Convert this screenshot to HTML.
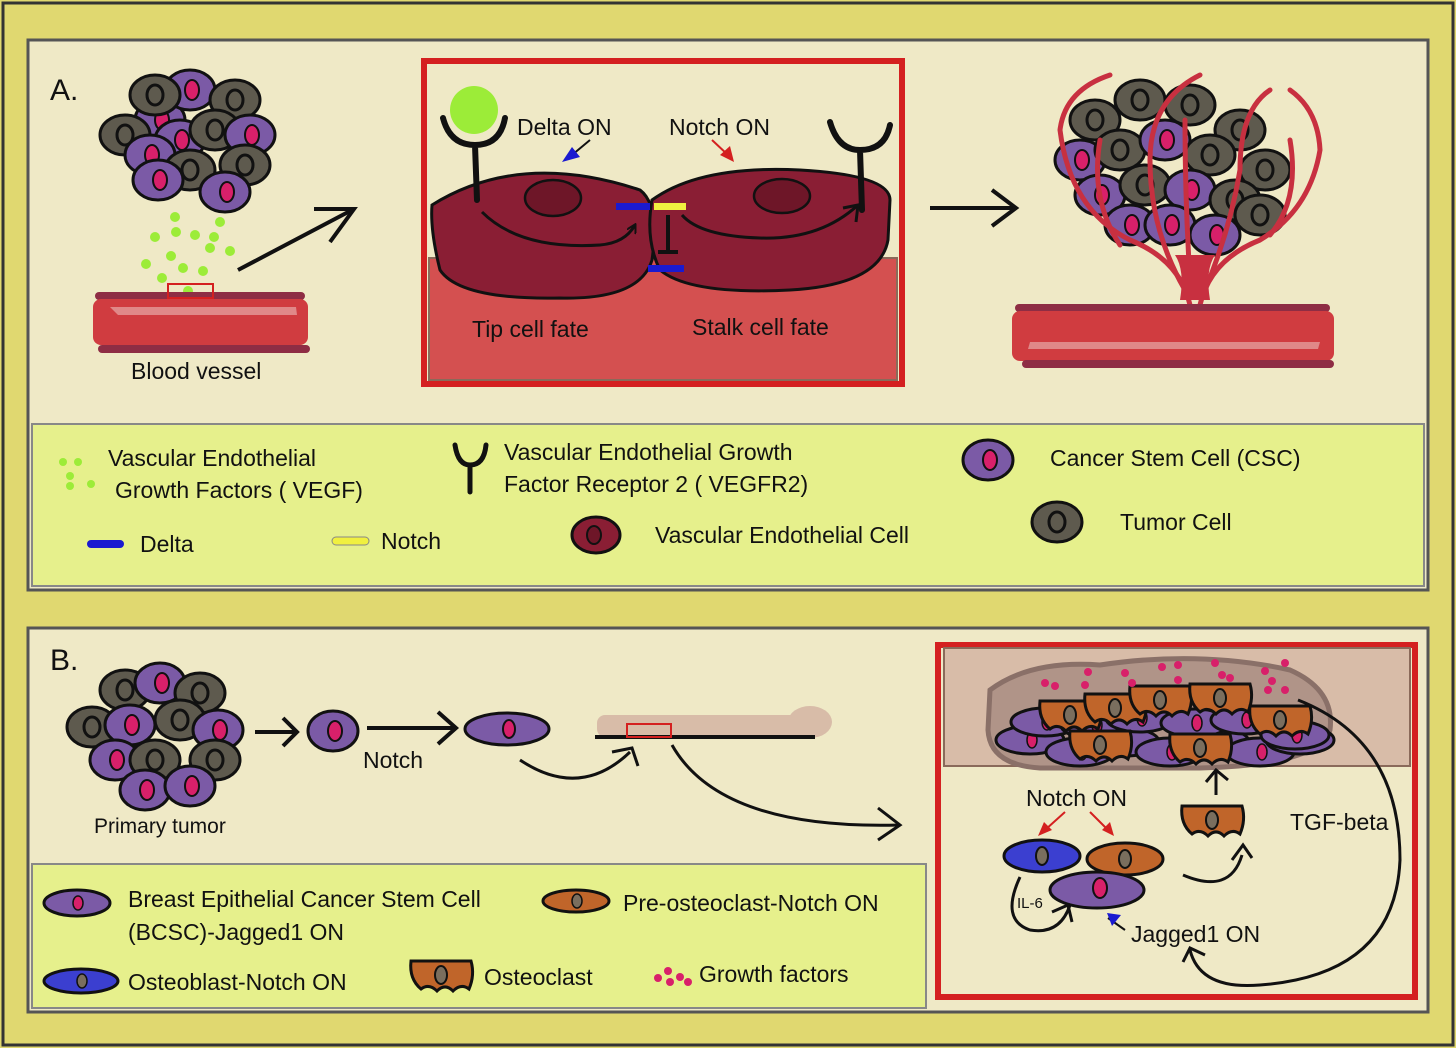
<!DOCTYPE html>
<html><head><meta charset="utf-8"><style>
html,body{margin:0;padding:0;background:#fff}
svg{display:block}
text{font-family:"Liberation Sans",sans-serif;fill:#111}
</style></head><body>
<svg width="1456" height="1048" viewBox="0 0 1456 1048" xmlns="http://www.w3.org/2000/svg">
<defs>
<marker id="ah" markerWidth="10" markerHeight="10" refX="8" refY="5" orient="auto" markerUnits="userSpaceOnUse"><path d="M0,0 L9,5 L0,10" fill="none" stroke="#111" stroke-width="2"/></marker>
<g id="csc"><ellipse cx="0" cy="0" rx="25" ry="20" fill="#7b5aa6" stroke="#111" stroke-width="3"/><ellipse cx="2" cy="0" rx="7" ry="10" fill="#d8206a" stroke="#111" stroke-width="2"/></g>
<g id="tum"><ellipse cx="0" cy="0" rx="25" ry="20" fill="#5e5a4e" stroke="#111" stroke-width="3"/><ellipse cx="0" cy="0" rx="8" ry="10" fill="#5e5a4e" stroke="#111" stroke-width="3"/></g>
<g id="bcsc"><ellipse cx="0" cy="0" rx="34" ry="14" fill="#7b5aa6" stroke="#111" stroke-width="3"/><ellipse cx="2" cy="0" rx="5" ry="8" fill="#d8206a" stroke="#111" stroke-width="1.5"/></g>
<g id="obl"><ellipse cx="0" cy="0" rx="38" ry="16" fill="#3b3fd0" stroke="#111" stroke-width="3"/><ellipse cx="0" cy="0" rx="6" ry="9" fill="#7a6e5e" stroke="#111" stroke-width="2"/></g>
<g id="pre"><ellipse cx="0" cy="0" rx="38" ry="16" fill="#c0652a" stroke="#111" stroke-width="3"/><ellipse cx="0" cy="0" rx="6" ry="9" fill="#7a6e5e" stroke="#111" stroke-width="2"/></g>
<g id="ocl"><path d="M-30,-14 L30,-14 Q34,0 28,14 Q20,8 12,16 Q4,8 -4,16 Q-12,8 -20,14 Q-32,4 -30,-14Z" fill="#c0652a" stroke="#111" stroke-width="3"/><ellipse cx="0" cy="0" rx="6" ry="9" fill="#7a6e5e" stroke="#111" stroke-width="2"/></g>
</defs>
<rect x="0" y="0" width="1456" height="1048" fill="#e0d870"/>
<rect x="3" y="3" width="1450" height="1042" fill="none" stroke="#333" stroke-width="3"/>
<!-- Panel A -->
<rect x="28" y="40" width="1400" height="550" fill="#efe9c6" stroke="#555" stroke-width="3"/>
<text x="50" y="100" font-size="30">A.</text>
<!-- tumor cluster A -->
<g>
<use href="#csc" x="160" y="120"/><use href="#csc" x="190" y="90"/><use href="#tum" x="155" y="95"/><use href="#tum" x="235" y="100"/>
<use href="#csc" x="180" y="140"/><use href="#tum" x="215" y="130"/><use href="#csc" x="250" y="135"/><use href="#tum" x="125" y="135"/>
<use href="#csc" x="150" y="155"/><use href="#tum" x="190" y="170"/><use href="#tum" x="245" y="165"/><use href="#csc" x="158" y="180"/><use href="#csc" x="225" y="192"/>
</g>
<g fill="#9cec38">
<circle cx="175" cy="217" r="5"/><circle cx="220" cy="222" r="5"/><circle cx="155" cy="237" r="5"/><circle cx="176" cy="232" r="5"/><circle cx="195" cy="235" r="5"/><circle cx="214" cy="237" r="5"/><circle cx="210" cy="248" r="5"/><circle cx="230" cy="251" r="5"/><circle cx="171" cy="256" r="5"/><circle cx="146" cy="264" r="5"/><circle cx="183" cy="268" r="5"/><circle cx="203" cy="271" r="5"/><circle cx="162" cy="278" r="5"/><circle cx="188" cy="291" r="5"/>
</g>
<rect x="95" y="292" width="210" height="8" rx="4" fill="#8e2d44"/>
<rect x="93" y="299" width="215" height="46" rx="8" fill="#d03c40"/>
<path d="M110,307 L296,307 L297,315 L118,315Z" fill="#e08888"/>
<rect x="98" y="345" width="212" height="8" rx="4" fill="#8e2d44"/>
<rect x="168" y="284" width="45" height="14" fill="none" stroke="#d42020" stroke-width="2"/>
<text x="131" y="379" font-size="23">Blood vessel</text>
<path d="M238,270 L352,210" stroke="#111" stroke-width="4" fill="none"/>
<path d="M314,209 L354,209 L330,242" stroke="#111" stroke-width="4" fill="none"/>
<!-- red box A -->
<rect x="424" y="61" width="478" height="323" fill="#efe9c6" stroke="#d42020" stroke-width="6"/>
<rect x="429" y="258" width="468" height="122" fill="#d45050" stroke="#8a6a5a" stroke-width="2"/>
<path d="M432,205 Q520,150 640,190 Q660,205 652,260 Q640,300 560,298 Q460,300 440,270 Q430,230 432,205Z" fill="#8a1e34" stroke="#111" stroke-width="3"/>
<path d="M652,200 Q700,165 800,170 Q890,175 890,200 L888,240 Q880,285 790,290 Q690,295 660,270 Q645,240 652,200Z" fill="#8a1e34" stroke="#111" stroke-width="3"/>
<ellipse cx="553" cy="198" rx="28" ry="18" fill="#6e1628" stroke="#111" stroke-width="2.5"/>
<ellipse cx="782" cy="196" rx="28" ry="17" fill="#6e1628" stroke="#111" stroke-width="2.5"/>
<circle cx="474" cy="110" r="24" fill="#9cec38"/>
<path d="M443,118 Q450,145 475,145 Q500,145 505,118 M475,145 L477,200" stroke="#111" stroke-width="6" fill="none" stroke-linecap="round"/>
<path d="M830,122 Q838,150 860,150 Q885,150 890,125 M860,150 L862,210" stroke="#111" stroke-width="6" fill="none" stroke-linecap="round"/>
<path d="M482,212 Q520,250 600,245 Q625,243 635,225" stroke="#111" stroke-width="3" fill="none" marker-end="url(#ah)"/>
<path d="M858,205 Q820,240 760,238 Q700,236 682,215" stroke="#111" stroke-width="3" fill="none"/>
<path d="M843,208 L858,205 L856,222" stroke="#111" stroke-width="3" fill="none"/>
<rect x="616" y="203" width="34" height="7" fill="#1a1ad0"/>
<rect x="654" y="203" width="32" height="7" fill="#f0f040"/>
<path d="M668,215 L668,252 M658,252 L678,252" stroke="#111" stroke-width="4"/>
<rect x="648" y="265" width="36" height="7" fill="#1a1ad0"/>
<text x="517" y="135" font-size="23">Delta ON</text>
<text x="669" y="135" font-size="23">Notch ON</text>
<path d="M590,140 L572,155" stroke="#111" stroke-width="2"/><path d="M562,162 L572,147 L580,157Z" fill="#1a1ad0"/>
<path d="M712,140 L728,155" stroke="#d42020" stroke-width="2"/><path d="M734,162 L720,155 L730,146Z" fill="#d42020"/>
<text x="472" y="337" font-size="23">Tip cell fate</text>
<text x="692" y="335" font-size="23">Stalk cell fate</text>
<path d="M930,208 L1015,208" stroke="#111" stroke-width="4"/>
<path d="M992,190 L1016,208 L992,226" stroke="#111" stroke-width="4" fill="none"/>
<!-- vascularized tumor -->
<g>
<use href="#tum" x="1095" y="120"/><use href="#tum" x="1140" y="100"/><use href="#tum" x="1190" y="105"/><use href="#tum" x="1240" y="130"/>
<use href="#csc" x="1080" y="160"/><use href="#tum" x="1120" y="150"/><use href="#csc" x="1165" y="140"/><use href="#tum" x="1210" y="155"/><use href="#tum" x="1265" y="170"/>
<use href="#csc" x="1100" y="195"/><use href="#tum" x="1145" y="185"/><use href="#csc" x="1190" y="190"/><use href="#tum" x="1235" y="200"/>
<use href="#csc" x="1130" y="225"/><use href="#csc" x="1170" y="225"/><use href="#csc" x="1215" y="235"/><use href="#tum" x="1260" y="215"/>
</g>
<g stroke="#c83040" stroke-width="5" fill="none" stroke-linecap="round">
<path d="M1190,305 Q1180,260 1130,240 Q1070,210 1060,130 Q1065,90 1110,75"/>
<path d="M1200,305 Q1210,260 1260,240 Q1310,210 1320,150 Q1318,110 1290,90"/>
<path d="M1185,290 Q1150,230 1150,160 Q1150,100 1200,75"/>
<path d="M1205,290 Q1230,230 1240,170 Q1240,110 1270,90"/>
<path d="M1190,280 Q1185,200 1185,120"/>
<path d="M1120,245 Q1090,200 1100,140"/>
<path d="M1270,235 Q1300,200 1290,140"/>
</g>
<path d="M1180,300 Q1185,270 1175,255 L1215,255 Q1205,270 1210,300Z" fill="#c83040"/>
<rect x="1015" y="304" width="315" height="8" rx="4" fill="#8e2d44"/>
<rect x="1012" y="311" width="322" height="50" rx="8" fill="#d03c40"/>
<path d="M1030,342 L1320,342 L1318,349 L1028,349Z" fill="#e08888"/>
<rect x="1022" y="360" width="312" height="8" rx="4" fill="#8e2d44"/>
<!-- legend A -->
<rect x="32" y="424" width="1392" height="162" fill="#e6f08c" stroke="#888" stroke-width="2"/>
<g fill="#9cec38"><circle cx="63" cy="462" r="4"/><circle cx="78" cy="462" r="4"/><circle cx="70" cy="476" r="4"/><circle cx="91" cy="484" r="4"/><circle cx="70" cy="486" r="4"/></g>
<text x="108" y="466" font-size="23">Vascular Endothelial</text>
<text x="115" y="498" font-size="23">Growth Factors ( VEGF)</text>
<path d="M455,445 Q458,465 470,465 Q484,465 486,445 M470,465 L470,492" stroke="#111" stroke-width="5" fill="none" stroke-linecap="round"/>
<text x="504" y="460" font-size="23">Vascular Endothelial Growth</text>
<text x="504" y="492" font-size="23">Factor Receptor 2 ( VEGFR2)</text>
<use href="#csc" x="988" y="460" transform="scale(1)"/>
<text x="1050" y="466" font-size="23">Cancer Stem Cell (CSC)</text>
<use href="#tum" x="1057" y="522"/>
<text x="1120" y="530" font-size="23">Tumor Cell</text>
<rect x="87" y="540" width="37" height="8" rx="4" fill="#1a1ad0"/>
<text x="140" y="552" font-size="23">Delta</text>
<rect x="332" y="537" width="37" height="8" rx="4" fill="#f0f040" stroke="#888" stroke-width="1"/>
<text x="381" y="549" font-size="23">Notch</text>
<ellipse cx="596" cy="535" rx="24" ry="18" fill="#8a1e34" stroke="#111" stroke-width="3"/>
<ellipse cx="594" cy="535" rx="7" ry="9" fill="#6e1628" stroke="#111" stroke-width="2"/>
<text x="655" y="543" font-size="23">Vascular Endothelial Cell</text>
<!-- Panel B -->
<rect x="28" y="628" width="1400" height="384" fill="#efe9c6" stroke="#555" stroke-width="3"/>
<text x="50" y="670" font-size="30">B.</text>
<g>
<use href="#tum" x="125" y="690"/><use href="#csc" x="160" y="683"/><use href="#tum" x="200" y="693"/>
<use href="#tum" x="92" y="727"/><use href="#csc" x="130" y="725"/><use href="#tum" x="180" y="720"/><use href="#csc" x="218" y="730"/>
<use href="#csc" x="115" y="760"/><use href="#tum" x="155" y="760"/><use href="#tum" x="215" y="760"/>
<use href="#csc" x="145" y="790"/><use href="#csc" x="190" y="786"/>
</g>
<text x="94" y="833" font-size="21">Primary tumor</text>
<path d="M255,732 L295,732" stroke="#111" stroke-width="4"/><path d="M283,718 L297,732 L283,746" stroke="#111" stroke-width="4" fill="none"/>
<use href="#csc" x="333" y="731"/>
<path d="M367,728 L455,728" stroke="#111" stroke-width="4"/><path d="M438,712 L456,728 L438,744" stroke="#111" stroke-width="4" fill="none"/>
<text x="363" y="768" font-size="23">Notch</text>
<use href="#bcsc" x="507" y="729" transform="translate(0,0)"/>
<ellipse cx="507" cy="729" rx="42" ry="16" fill="#7b5aa6" stroke="#111" stroke-width="3"/><ellipse cx="509" cy="729" rx="6" ry="9" fill="#d8206a" stroke="#111" stroke-width="2"/>
<path d="M520,760 Q580,800 630,752" stroke="#111" stroke-width="3" fill="none"/><path d="M612,752 L632,748 L638,766" stroke="#111" stroke-width="3" fill="none"/>
<rect x="597" y="715" width="215" height="22" rx="8" fill="#d8bca8"/>
<ellipse cx="810" cy="722" rx="22" ry="16" fill="#d8bca8"/>
<rect x="595" y="735" width="220" height="4" fill="#111"/>
<rect x="627" y="724" width="44" height="13" fill="none" stroke="#d42020" stroke-width="2"/>
<path d="M672,745 Q720,830 900,825" stroke="#111" stroke-width="3" fill="none"/><path d="M878,808 L900,825 L878,840" stroke="#111" stroke-width="3" fill="none"/>
<!-- red box B -->
<rect x="938" y="645" width="477" height="352" fill="#efe9c6" stroke="#d42020" stroke-width="6"/>
<rect x="944" y="648" width="466" height="118" fill="#d8bca8" stroke="#8a6a5a" stroke-width="2"/>
<path d="M990,690 Q1030,660 1100,665 Q1200,650 1290,670 Q1335,690 1330,730 Q1320,765 1200,768 L1040,768 Q990,765 988,730Z" fill="#b09488" stroke="#8a7068" stroke-width="5"/>
<g>
<use href="#bcsc" x="1030" y="740" transform="translate(0,0)"/><use href="#bcsc" x="1080" y="752"/><use href="#bcsc" x="1125" y="742"/><use href="#bcsc" x="1170" y="752"/><use href="#bcsc" x="1215" y="742"/><use href="#bcsc" x="1260" y="752"/><use href="#bcsc" x="1300" y="740"/>
<use href="#bcsc" x="1045" y="722"/><use href="#bcsc" x="1095" y="725"/><use href="#bcsc" x="1140" y="718"/><use href="#bcsc" x="1195" y="723"/><use href="#bcsc" x="1245" y="720"/><use href="#bcsc" x="1295" y="735"/>
<use href="#ocl" x="1070" y="715" transform="translate(0,0)"/><use href="#ocl" x="1115" y="708"/><use href="#ocl" x="1160" y="700"/><use href="#ocl" x="1220" y="698"/><use href="#ocl" x="1200" y="748"/><use href="#ocl" x="1280" y="720"/><use href="#ocl" x="1100" y="745"/>
</g>
<g fill="#d8206a">
<circle cx="1045" cy="683" r="4"/><circle cx="1055" cy="686" r="4"/><circle cx="1088" cy="672" r="4"/><circle cx="1085" cy="685" r="4"/><circle cx="1125" cy="673" r="4"/><circle cx="1132" cy="683" r="4"/><circle cx="1162" cy="667" r="4"/><circle cx="1178" cy="665" r="4"/><circle cx="1178" cy="680" r="4"/><circle cx="1215" cy="663" r="4"/><circle cx="1222" cy="675" r="4"/><circle cx="1230" cy="678" r="4"/><circle cx="1265" cy="671" r="4"/><circle cx="1272" cy="681" r="4"/><circle cx="1285" cy="663" r="4"/><circle cx="1285" cy="690" r="4"/><circle cx="1268" cy="690" r="4"/>
</g>
<text x="1026" y="806" font-size="23">Notch ON</text>
<path d="M1065,812 L1045,830" stroke="#d42020" stroke-width="2"/><path d="M1038,836 L1044,822 L1052,830Z" fill="#d42020"/>
<path d="M1090,812 L1108,830" stroke="#d42020" stroke-width="2"/><path d="M1114,836 L1102,830 L1110,822Z" fill="#d42020"/>
<use href="#obl" x="1042" y="856"/>
<use href="#pre" x="1125" y="859"/>
<ellipse cx="1097" cy="890" rx="47" ry="18" fill="#7b5aa6" stroke="#111" stroke-width="3"/><ellipse cx="1100" cy="888" rx="7" ry="10" fill="#d8206a" stroke="#111" stroke-width="2"/>
<text x="1017" y="908" font-size="15">IL-6</text>
<path d="M1020,877 Q1000,920 1030,930 Q1060,935 1070,905" stroke="#111" stroke-width="3" fill="none"/><path d="M1052,912 L1068,905 L1072,922" stroke="#111" stroke-width="3" fill="none"/>
<path d="M1108,918 L1125,930" stroke="#111" stroke-width="2"/><path d="M1107,913 L1121,915 L1112,926Z" fill="#1a1ad0"/>
<text x="1131" y="942" font-size="23">Jagged1 ON</text>
<use href="#ocl" x="1212" y="820"/>
<path d="M1183,875 Q1230,895 1242,855" stroke="#111" stroke-width="3" fill="none"/><path d="M1232,860 L1243,845 L1252,858" stroke="#111" stroke-width="3" fill="none"/>
<path d="M1216,795 L1216,772" stroke="#111" stroke-width="3"/><path d="M1206,782 L1216,770 L1228,780" stroke="#111" stroke-width="3" fill="none"/>
<text x="1290" y="830" font-size="23">TGF-beta</text>
<path d="M1298,700 Q1400,740 1400,860 Q1395,975 1260,985 Q1200,990 1190,950" stroke="#111" stroke-width="3" fill="none"/><path d="M1183,962 L1190,948 L1205,955" stroke="#111" stroke-width="3" fill="none"/>
<!-- legend B -->
<rect x="32" y="864" width="894" height="144" fill="#e6f08c" stroke="#888" stroke-width="2"/>
<ellipse cx="77" cy="903" rx="33" ry="13" fill="#7b5aa6" stroke="#111" stroke-width="3"/><ellipse cx="78" cy="903" rx="5" ry="7" fill="#d8206a" stroke="#111" stroke-width="1.5"/>
<text x="128" y="907" font-size="23">Breast Epithelial Cancer Stem Cell</text>
<text x="128" y="940" font-size="23">(BCSC)-Jagged1 ON</text>
<ellipse cx="576" cy="901" rx="33" ry="11" fill="#c0652a" stroke="#111" stroke-width="3"/><ellipse cx="577" cy="901" rx="5" ry="7" fill="#7a6e5e" stroke="#111" stroke-width="1.5"/>
<text x="623" y="911" font-size="23">Pre-osteoclast-Notch ON</text>
<ellipse cx="81" cy="981" rx="37" ry="12" fill="#3b3fd0" stroke="#111" stroke-width="3"/><ellipse cx="82" cy="981" rx="5" ry="7" fill="#7a6e5e" stroke="#111" stroke-width="1.5"/>
<text x="128" y="990" font-size="23">Osteoblast-Notch ON</text>
<use href="#ocl" x="441" y="975"/>
<text x="484" y="985" font-size="23">Osteoclast</text>
<g fill="#d8206a"><circle cx="658" cy="978" r="4"/><circle cx="668" cy="971" r="4"/><circle cx="670" cy="982" r="4"/><circle cx="680" cy="977" r="4"/><circle cx="688" cy="982" r="4"/></g>
<text x="699" y="982" font-size="23">Growth factors</text>
</svg>
</body></html>
